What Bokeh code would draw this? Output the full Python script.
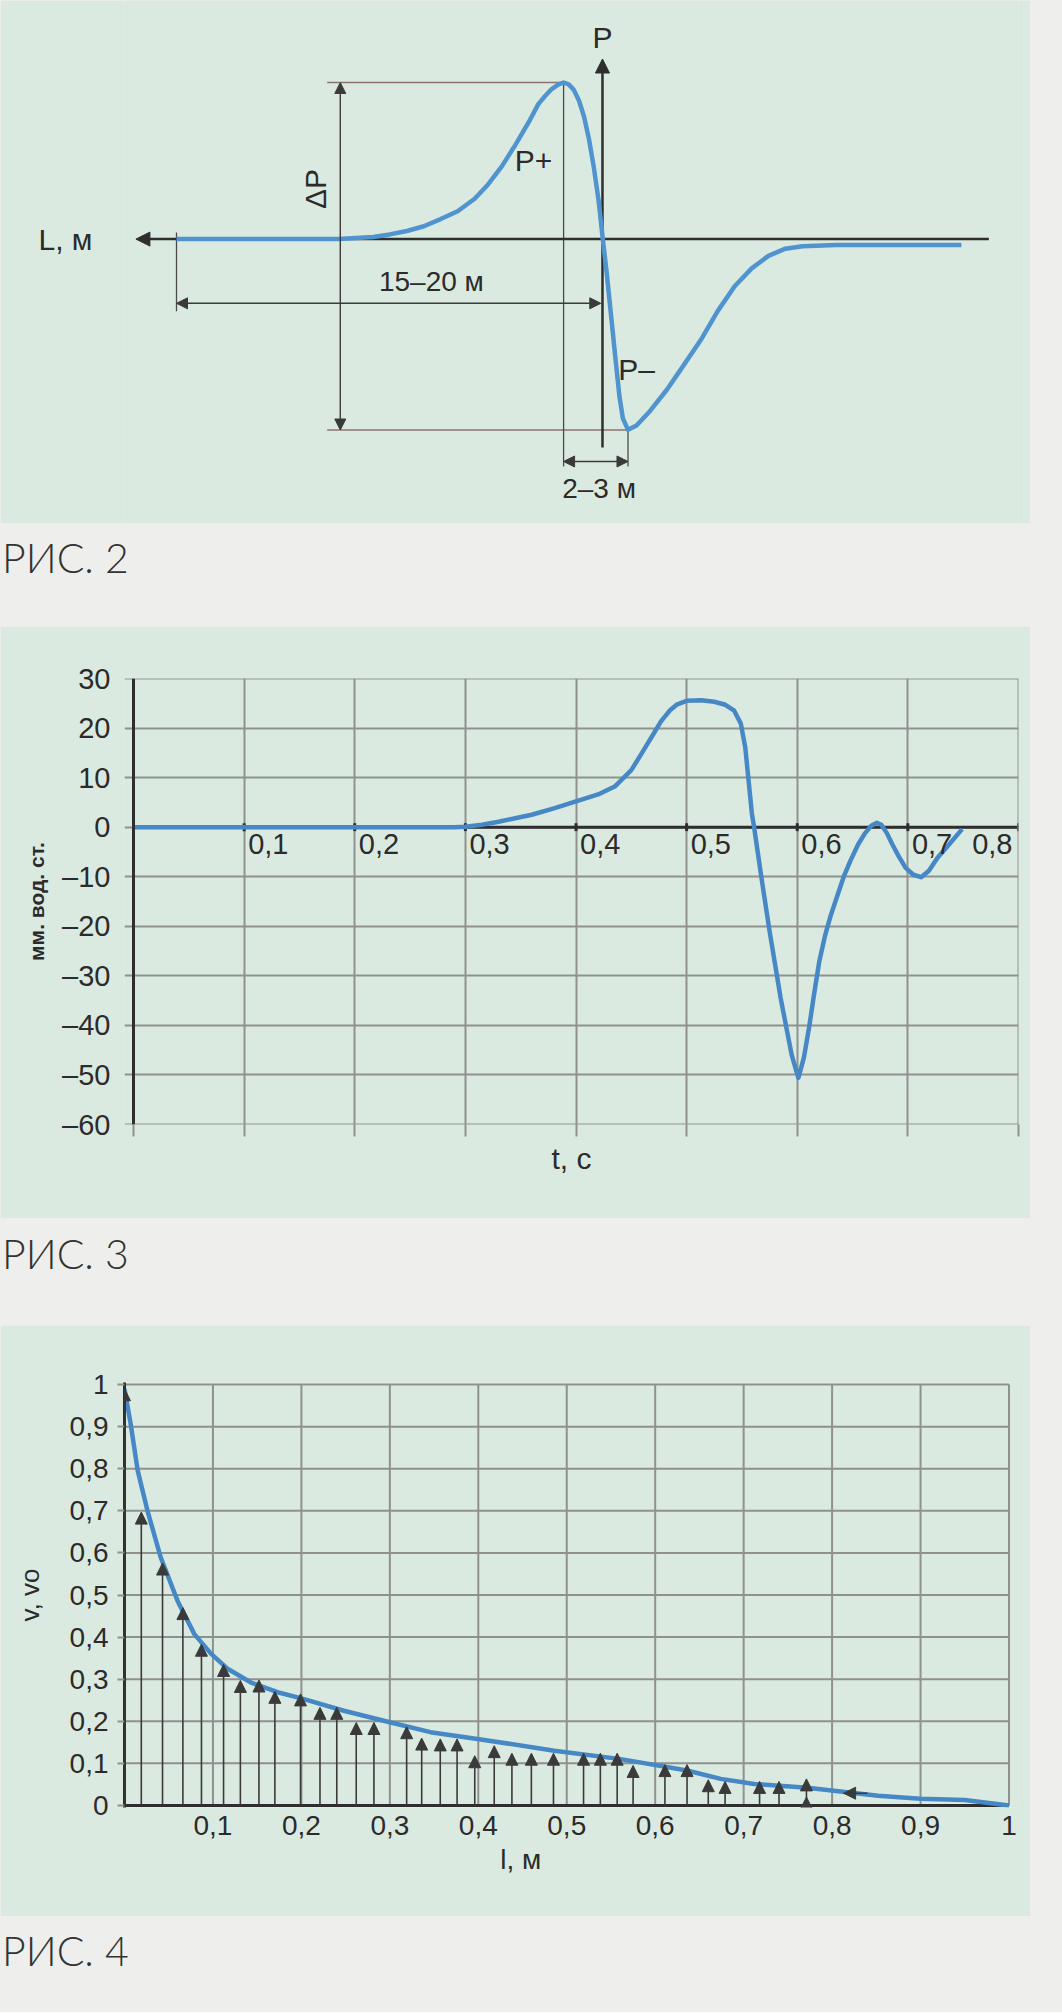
import math
from bokeh.plotting import figure
from bokeh.models import (Range1d, Arrow, NormalHead, ColumnDataSource, Div,
                          Label, FixedTicker, Span, LinearAxis)
from bokeh.layouts import column
from bokeh.embed import file_html
from bokeh.resources import INLINE
from bokeh.core.properties import value

PAGE = "#eeefec"
PANEL = "#dbeae1"
GRID = "#8f918e"
AXIS = "#2e2e2e"
BLUE = "#4588c5"
INK = "#2b2b2b"
REF = "#8c7370"
FONT = "Liberation Sans"

# ---------------- РИС. 2 : schematic pressure wave ----------------
# L in metres (P axis at L = 0), P relative to the P+ peak
fig2_L = [-17.53, -10.84, -9.44, -8.75, -8.05, -7.35, -6.66, -5.96, -5.26, -4.71,
          -4.15, -3.59, -3.03, -2.64, -2.37, -2.09, -1.81, -1.60, -1.39, -1.18,
          -0.97, -0.76, -0.55, -0.35, -0.16, 0.0, 0.17, 0.35, 0.53, 0.70,
          0.84, 1.05, 1.40, 1.95, 2.65, 3.35, 4.05, 4.74, 5.44, 6.14,
          6.83, 7.53, 8.23, 9.62, 14.77]
fig2_P = [0.0, 0.0, 0.014, 0.030, 0.052, 0.082, 0.128, 0.178, 0.258, 0.349,
          0.463, 0.600, 0.748, 0.862, 0.912, 0.958, 0.988, 1.0, 0.988, 0.953,
          0.885, 0.783, 0.634, 0.451, 0.246, 0.018, -0.21, -0.483, -0.756, -1.008,
          -1.145, -1.218, -1.19, -1.099, -0.962, -0.803, -0.643, -0.46, -0.301, -0.187,
          -0.107, -0.061, -0.045, -0.038, -0.038]
fig2_axis_name = "L, м"
fig2_text = ["15–20 м", "ΔP", "P", "P+", "P–", "2–3 м"]
fig2_text_L = [-7.04, -11.81, 0.0, -2.84, 1.40, -0.14]
fig2_text_P = [-0.27, 0.32, 1.29, 0.50, -0.83, -1.59]
fig2_text_angle = [0, math.pi / 2, 0, 0, 0, 0]
fig2_text_size = ["28px", "30px", "30px", "30px", "30px", "28px"]

L_axis_from, L_axis_to = 15.9, -19.2
P_axis_from, P_axis_to = -1.33, 1.15
peak_L, peak_P = -1.60, 1.0
trough_L, trough_P = 1.05, -1.219
start_L = -17.53
dP_L = -10.79
ref_left_L = -11.33
dim1520_P = -0.41
dim23_P = -1.42
ext_bottom_P = -1.452

# ---------------- РИС. 3 : pressure vs time ----------------
fig3_t = [0.0, 0.29, 0.30, 0.315, 0.33, 0.345, 0.36, 0.38, 0.40, 0.42,
          0.435, 0.45, 0.461, 0.470, 0.477, 0.485, 0.4915, 0.50, 0.513, 0.525,
          0.535, 0.543, 0.549, 0.553, 0.556, 0.559, 0.561, 0.5675, 0.575, 0.585,
          0.595, 0.601, 0.606, 0.611, 0.615, 0.620, 0.625, 0.630, 0.636, 0.642,
          0.648, 0.655, 0.661, 0.667, 0.672, 0.676, 0.681, 0.686, 0.692, 0.698,
          0.705, 0.712, 0.719, 0.727, 0.738, 0.749]
fig3_p = [0, 0, 0.1, 0.5, 1.1, 1.8, 2.5, 3.8, 5.2, 6.6,
          8.2, 11.5, 15.5, 18.8, 21.4, 23.6, 24.8, 25.5, 25.6, 25.3,
          24.7, 23.5, 20.9, 16.1, 9.4, 2.7, 0, -10, -21, -34.5,
          -46, -50.6, -46.5, -40, -34, -27, -22, -18, -14, -10,
          -6.8, -3.5, -1.3, 0.3, 0.9, 0.5, -1.2, -3.5, -6.0, -8.2,
          -9.6, -10.1, -8.8, -6.1, -3.3, -0.4]
fig3_y_ticks = [30, 20, 10, 0, -10, -20, -30, -40, -50, -60]
fig3_y_labels = ["30", "20", "10", "0", "–10", "–20", "–30", "–40", "–50", "–60"]
fig3_x_ticks = [0.1, 0.2, 0.3, 0.4, 0.5, 0.6, 0.7, 0.8]
fig3_x_labels = ["0,1", "0,2", "0,3", "0,4", "0,5", "0,6", "0,7", "0,8"]

# ---------------- РИС. 4 : velocity vs distance ----------------
fig4_l = [0.0, 0.007, 0.015, 0.026, 0.041, 0.060, 0.079, 0.098, 0.117, 0.143,
          0.173, 0.199, 0.248, 0.301, 0.346, 0.399, 0.486, 0.561, 0.636, 0.674,
          0.712, 0.772, 0.852, 0.90, 0.95, 1.0]
fig4_v = [0.99, 0.906, 0.795, 0.70, 0.589, 0.486, 0.407, 0.360, 0.324, 0.292,
          0.269, 0.255, 0.225, 0.197, 0.174, 0.158, 0.130, 0.110, 0.083, 0.063,
          0.051, 0.042, 0.023, 0.016, 0.013, 0.0]
arrow_l = [0.0, 0.019, 0.043, 0.066, 0.087, 0.112, 0.131, 0.152, 0.170, 0.199,
           0.221, 0.240, 0.262, 0.282, 0.319, 0.336, 0.357, 0.376, 0.396, 0.418,
           0.438, 0.460, 0.485, 0.519, 0.538, 0.557, 0.575, 0.611, 0.636, 0.660,
           0.679, 0.718, 0.740, 0.771, 0.771]
arrow_v = [0.99, 0.697, 0.576, 0.470, 0.383, 0.335, 0.297, 0.298, 0.271, 0.265,
           0.233, 0.233, 0.197, 0.197, 0.187, 0.160, 0.158, 0.158, 0.118, 0.142,
           0.124, 0.124, 0.124, 0.124, 0.124, 0.124, 0.095, 0.097, 0.097, 0.061,
           0.057, 0.057, 0.057, 0.063, 0.020]
side_arrow_l = [0.84, 0.813]
side_arrow_v = 0.029
fig4_ticks = [0.0, 0.1, 0.2, 0.3, 0.4, 0.5, 0.6, 0.7, 0.8, 0.9, 1.0]
fig4_labels = ["0", "0,1", "0,2", "0,3", "0,4", "0,5", "0,6", "0,7", "0,8", "0,9", "1"]
fig4_xname, fig4_xname_at = "l, м", 0.448

# common frame borders so that column frame alignment changes nothing
BL, BR, W = 124, 12, 1030


def base_fig(**kw):
    return figure(width=W, toolbar_location=None, output_backend="svg",
                  background_fill_color=PANEL, border_fill_color=PANEL,
                  outline_line_color=None, margin=(0, 0, 0, 0),
                  min_border_left=BL, min_border_right=BR, **kw)


def name_axis(ticks, overrides, size, standoff):
    ax = LinearAxis(ticker=FixedTicker(ticks=ticks), major_label_overrides=overrides)
    ax.axis_line_color = None
    ax.major_tick_line_color = None
    ax.minor_tick_line_color = None
    ax.major_label_text_font = FONT
    ax.major_label_text_font_size = size
    ax.major_label_text_color = INK
    ax.major_label_standoff = standoff
    return ax


# ======== РИС. 2 ========
f2 = base_fig(height=523, x_range=Range1d(-19.67, 17.12),
              y_range=Range1d(-1.816, 1.5236), x_axis_type=None, y_axis_type=None,
              min_border_top=0, min_border_bottom=0)
f2.add_layout(name_axis([0.0], {0.0: fig2_axis_name}, "30px", 26), "left")
f2.segment(x0=[ref_left_L, ref_left_L], y0=[peak_P, trough_P],
           x1=[peak_L, trough_L], y1=[peak_P, trough_P], line_color=REF, line_width=1.5)
f2.segment(x0=[peak_L, trough_L, start_L], y0=[peak_P, trough_P, 0.042],
           x1=[peak_L, trough_L, start_L], y1=[ext_bottom_P, ext_bottom_P, -0.46],
           line_color="#4a4a4a", line_width=1.3)
f2.segment(x0=[L_axis_from, 0], y0=[0, P_axis_from], x1=[L_axis_to + 0.3, 0],
           y1=[0, P_axis_to - 0.05], line_color=AXIS, line_width=2.5)
f2.line(fig2_L, fig2_P, line_color="#4f93cf", line_width=4.5, line_join="round")
f2.add_layout(Arrow(x_start=L_axis_from, y_start=0, x_end=L_axis_to, y_end=0, line_color=None,
                    end=NormalHead(size=14, fill_color=AXIS, line_color=AXIS)))
f2.add_layout(Arrow(x_start=0, y_start=P_axis_from, x_end=0, y_end=P_axis_to, line_color=None,
                    end=NormalHead(size=14, fill_color=AXIS, line_color=AXIS)))
for (xs, ys, xe, ye) in [(dP_L, trough_P, dP_L, peak_P),
                         (start_L, dim1520_P, -0.07, dim1520_P),
                         (peak_L, dim23_P, trough_L, dim23_P)]:
    f2.add_layout(Arrow(x_start=xs, y_start=ys, x_end=xe, y_end=ye, line_color="#3a3a3a",
                        line_width=1.4,
                        start=NormalHead(size=11, fill_color="#3a3a3a", line_color="#3a3a3a"),
                        end=NormalHead(size=11, fill_color="#3a3a3a", line_color="#3a3a3a")))
for txt, lx, py, ang, fs in zip(fig2_text, fig2_text_L, fig2_text_P, fig2_text_angle, fig2_text_size):
    f2.add_layout(Label(x=lx, y=py, text=txt, angle=ang, text_font=FONT, text_font_size=fs,
                        text_color=INK, text_align="center", text_baseline="middle"))

# ======== РИС. 3 ========
f3 = base_fig(height=592, x_range=Range1d(-0.00814, 0.8), y_range=Range1d(-60, 30),
              min_border_top=52, min_border_bottom=94)
f3.xgrid.ticker = FixedTicker(ticks=fig3_x_ticks[:-1])
f3.ygrid.ticker = FixedTicker(ticks=[t for t in fig3_y_ticks if t not in (30, -60)])
for g in (f3.xgrid[0], f3.ygrid[0]):
    g.grid_line_color = GRID
    g.grid_line_width = 2
for loc, dim in [(30, "width"), (-60, "width"), (0.8, "height")]:
    f3.add_layout(Span(location=loc, dimension=dim, line_color=GRID, line_width=2))
f3.add_layout(Span(location=0, dimension="height", line_color=AXIS, line_width=3))

ya = f3.yaxis[0]
ya.ticker = FixedTicker(ticks=fig3_y_ticks)
ya.major_label_overrides = dict(zip(fig3_y_ticks, fig3_y_labels))
ya.major_tick_out = 0
ya.major_tick_in = 0
ya.minor_tick_line_color = None
ya.axis_line_color = None
ya.major_label_text_font = FONT
ya.major_label_text_font_size = "29px"
ya.major_label_text_color = INK
ya.major_label_standoff = 14
ya.axis_label = "мм. вод. ст."
ya.axis_label_text_font = FONT
ya.axis_label_text_font_style = "bold"
ya.axis_label_text_font_size = "21px"
ya.axis_label_text_color = INK
ya.axis_label_standoff = 11

xa = f3.xaxis[0]
xa.ticker = FixedTicker(ticks=[0.0] + fig3_x_ticks)
xa.major_label_overrides = {t: "" for t in [0.0] + fig3_x_ticks}
xa.major_label_text_font_size = "1px"
xa.major_label_standoff = 0
xa.axis_line_color = None
xa.major_tick_out = 12
xa.major_tick_in = 0
xa.major_tick_line_color = GRID
xa.major_tick_line_width = 2
xa.minor_tick_line_color = None
xa.axis_label = "t, с"
xa.axis_label_text_font = FONT
xa.axis_label_text_font_style = "normal"
xa.axis_label_text_font_size = "30px"
xa.axis_label_text_color = INK
xa.axis_label_standoff = 5

f3.segment(x0=[0.0], y0=[0], x1=fig3_x_ticks[-1:], y1=[0], line_color=AXIS, line_width=3)
f3.segment(x0=fig3_x_ticks, y0=[-0.8] * len(fig3_x_ticks), x1=fig3_x_ticks,
           y1=[0.8] * len(fig3_x_ticks), line_color=AXIS, line_width=3)
f3.line(fig3_t, fig3_p, line_color=BLUE, line_width=4.5, line_join="round")
f3.text(x=fig3_x_ticks[:-1], y=[-1.4] * (len(fig3_x_ticks) - 1), text=fig3_x_labels[:-1],
        x_offset=4, text_font=value(FONT), text_font_size="29px", text_color=INK,
        text_align="left", text_baseline="top")
f3.text(x=fig3_x_ticks[-1:], y=[-1.4], text=fig3_x_labels[-1:], x_offset=-6,
        text_font=value(FONT), text_font_size="29px", text_color=INK,
        text_align="right", text_baseline="top")

# ======== РИС. 4 ========
f4 = base_fig(height=591, x_range=Range1d(0, 1.01074), y_range=Range1d(-0.005, 1.005),
              min_border_top=57, min_border_bottom=109)
f4.xgrid.visible = False
f4.ygrid.visible = False
g_ticks = fig4_ticks[1:]
n = len(g_ticks)
lo, hi = fig4_ticks[0], fig4_ticks[-1]
f4.segment(x0=[lo] * n, y0=g_ticks, x1=[hi] * n, y1=g_ticks, line_color=GRID, line_width=2)
f4.segment(x0=g_ticks, y0=[lo] * n, x1=g_ticks, y1=[hi] * n, line_color=GRID, line_width=2)
f4.segment(x0=[lo], y0=[lo], x1=[hi], y1=[lo], line_color=AXIS, line_width=3)

ya4 = f4.yaxis[0]
ya4.ticker = FixedTicker(ticks=fig4_ticks)
ya4.major_label_overrides = dict(zip(fig4_ticks, fig4_labels))
ya4.major_tick_out = 7
ya4.major_tick_in = 0
ya4.major_tick_line_color = GRID
ya4.major_tick_line_width = 2
ya4.minor_tick_line_color = None
ya4.axis_line_color = AXIS
ya4.axis_line_width = 3
ya4.major_label_text_font = FONT
ya4.major_label_text_font_size = "28px"
ya4.major_label_text_color = INK
ya4.major_label_standoff = 9
ya4.axis_label = "v, vo"
ya4.axis_label_text_font = FONT
ya4.axis_label_text_font_style = "normal"
ya4.axis_label_text_font_size = "26px"
ya4.axis_label_text_color = INK
ya4.axis_label_standoff = 22

xa4 = f4.xaxis[0]
xa4.ticker = FixedTicker(ticks=fig4_ticks[1:])
xa4.major_label_overrides = dict(zip(fig4_ticks[1:], fig4_labels[1:]))
xa4.major_tick_out = 0
xa4.major_tick_in = 0
xa4.minor_tick_line_color = None
xa4.axis_line_color = None
xa4.major_label_text_font = FONT
xa4.major_label_text_font_size = "28px"
xa4.major_label_text_color = INK
xa4.major_label_standoff = 8
f4.add_layout(name_axis([fig4_xname_at], {fig4_xname_at: fig4_xname}, "28px", 0), "below")

f4.line(fig4_l, fig4_v, line_color=BLUE, line_width=4.5, line_join="round")
src = ColumnDataSource(dict(x=arrow_l, y0=[0.0] * len(arrow_l), y1=arrow_v))
f4.add_layout(Arrow(source=src, x_start="x", y_start="y0", x_end="x", y_end="y1",
                    line_color="#3a3a3a", line_width=1.6,
                    end=NormalHead(size=12, fill_color="#3a3a3a", line_color="#3a3a3a")))
f4.add_layout(Arrow(x_start=side_arrow_l[0], y_start=side_arrow_v, x_end=side_arrow_l[1],
                    y_end=side_arrow_v, line_color="#3a3a3a", line_width=1.6,
                    end=NormalHead(size=12, fill_color="#3a3a3a", line_color="#3a3a3a")))


def caption(txt, h, pad):
    return Div(text=(f'<div style="font-family:Lato,sans-serif;font-weight:300;font-size:41px;'
                     f'line-height:41px;color:#333333;margin-top:{pad}px;margin-left:2px;">{txt}</div>'),
               width=1062, height=h, margin=(0, 0, 0, 0), styles={"background-color": PAGE})


page = column(f2, caption("РИС. 2", 103, 14), f3, caption("РИС. 3", 107, 15),
              f4, caption("РИС. 4", 96, 14), spacing=0, styles={"background-color": PAGE})

open("out.html", "w").write(file_html(page, INLINE))
